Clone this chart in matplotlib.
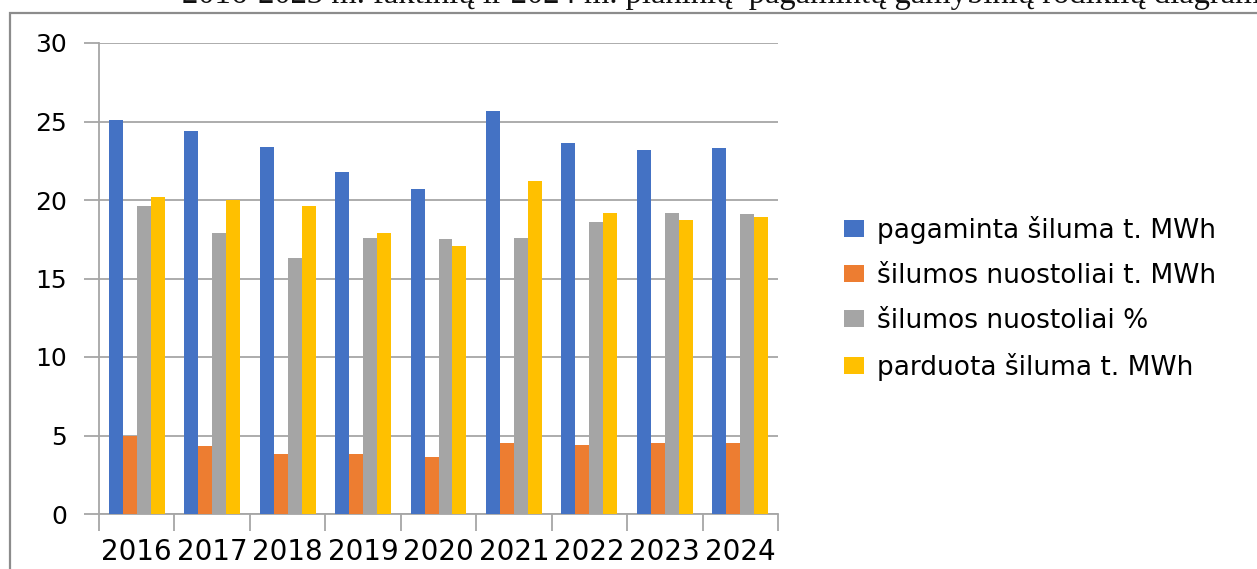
#!/usr/bin/env python
"""Heat production bar chart (2016-2024)."""

import matplotlib.pyplot as plt
import numpy as np
from matplotlib.patches import Rectangle

years = ["2016", "2017", "2018", "2019", "2020", "2021", "2022", "2023", "2024"]
produced = [25.1, 24.4, 23.4, 21.8, 20.7, 25.7, 23.6, 23.2, 23.3]
losses_mwh = [5.0, 4.3, 3.8, 3.8, 3.6, 4.5, 4.4, 4.5, 4.5]
losses_pct = [19.6, 17.9, 16.3, 17.6, 17.5, 17.6, 18.6, 19.2, 19.1]
sold = [20.2, 20.0, 19.6, 17.9, 17.1, 21.2, 19.2, 18.7, 18.9]

labels = [
    "pagaminta šiluma t. MWh",
    "šilumos nuostoliai t. MWh",
    "šilumos nuostoliai %",
    "parduota šiluma t. MWh",
]
colors = ["#4472C4", "#ED7D31", "#A5A5A5", "#FFC000"]
title = "2016-2023 m. faktinių ir 2024 m. planinių  pagamintų gamybinių rodiklių diagrama"


def main() -> None:
    fig = plt.figure(figsize=(12.57, 5.69), dpi=100)
    ax = fig.add_axes([99 / 1257, 1 - 514 / 569, 679 / 1257, 471 / 569])

    # outer frame of the embedded chart, cut off at the right and bottom
    fig.patches.append(Rectangle((10 / 1257, -0.1), 1.2, 1.1 - 13 / 569,
                                 transform=fig.transFigure, fill=False,
                                 edgecolor="#8c8c8c", lw=1.6))
    fig.text(182 / 1257, 1 - 2.5 / 569, title, fontsize=23.5, va="baseline",
             family="Liberation Serif", color="#111111")

    x = np.arange(len(years))
    w = 0.185
    series = [produced, losses_mwh, losses_pct, sold]
    for i, (vals, c, lab) in enumerate(zip(series, colors, labels)):
        ax.bar(x + (i - 1.5) * w, vals, width=w, color=c, label=lab, zorder=3)

    ax.set_xlim(-0.5, len(years) - 0.5)
    ax.set_ylim(0, 30)
    ax.set_yticks(np.arange(0, 31, 5))
    ax.yaxis.grid(True, color="#a6a6a6", lw=1.3, zorder=0)
    for s in ["top", "right"]:
        ax.spines[s].set_visible(False)
    for s in ["left", "bottom"]:
        ax.spines[s].set_color("#a6a6a6")
        ax.spines[s].set_linewidth(1.3)

    ax.set_xticks(np.arange(len(years) + 1) - 0.5)
    ax.set_xticklabels([])
    ax.set_xticks(x, minor=True)
    ax.set_xticklabels(years, minor=True, fontsize=20)
    ax.tick_params(axis="x", which="major", length=12, width=1.3, color="#a6a6a6")
    ax.tick_params(axis="x", which="minor", length=0, pad=17)
    ax.tick_params(axis="y", length=11, width=1.3, color="#a6a6a6", labelsize=18, pad=12)

    fig.legend(loc="upper left", bbox_to_anchor=(820 / 1257, 1 - 192 / 569),
               frameon=False, fontsize=19, handlelength=0.75, handleheight=0.6,
               handletextpad=0.5, labelspacing=0.72)

    fig.savefig("out.png", dpi=100)
    plt.close(fig)


if __name__ == "__main__":
    main()
